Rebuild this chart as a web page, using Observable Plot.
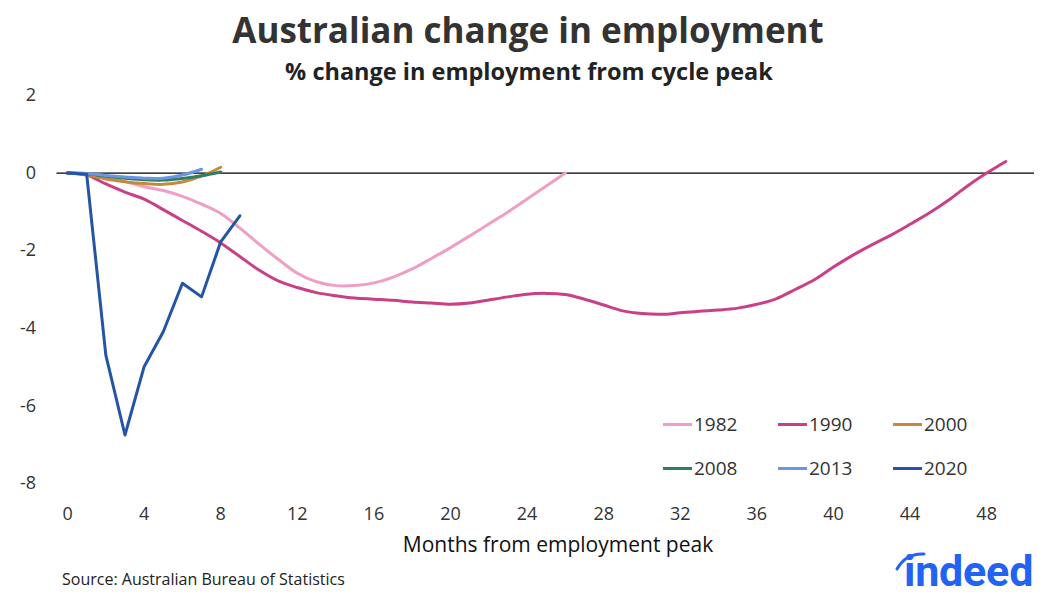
<!DOCTYPE html>
<html>
<head>
<meta charset="utf-8">
<script src="https://cdn.jsdelivr.net/npm/d3@7"></script>
<script src="https://cdn.jsdelivr.net/npm/@observablehq/plot@0.6"></script>
<style>
  html, body { margin: 0; padding: 0; background: #fff; }
  #wrap { position: relative; width: 1056px; height: 596px; overflow: hidden; font-family: "Open Sans", sans-serif; }
  #chart { position: absolute; left: 0; top: 0; }
  .abs { position: absolute; white-space: nowrap; }
  #title { left: 0; width: 1056px; text-align: center; top: 6px; font-size: 35px; font-weight: 700; color: #333; }
  #subtitle { left: 0; width: 1058px; text-align: center; top: 55px; font-size: 23.5px; font-weight: 700; color: #222; }
  #xlabel { left: 0; width: 1116px; text-align: center; top: 530px; font-size: 21px; color: #111; }
  #source { left: 62px; top: 568px; font-size: 16px; color: #222; }
  #logo { left: 904px; top: 546px; font-size: 43px; font-weight: 700; color: #2164f3; letter-spacing: -0.2px; font-family: Roboto, "Open Sans", sans-serif; }
  #arc { position: absolute; left: 894px; top: 550px; }
  .leg { position: absolute; font-size: 19px; color: #333; display: flex; align-items: center; }
  .sw { display: inline-block; width: 29px; height: 3px; margin-right: 2px; }
</style>
</head>
<body>
<div id="wrap">
  <div id="chart"></div>
  <div id="title" class="abs">Australian change in employment</div>
  <div id="subtitle" class="abs">% change in employment from cycle peak</div>
  <div id="xlabel" class="abs">Months from employment peak</div>
  <div id="source" class="abs">Source: Australian Bureau of Statistics</div>
  <div id="logo" class="abs">indeed</div>
  <svg id="arc" width="40" height="24"><path d="M3,19 Q12,3 30,4" fill="none" stroke="#2164f3" stroke-width="3" stroke-linecap="round"/></svg>
</div>
<script>
// Series labels and colours
const seriesNames = ["1982", "1990", "2000", "2008", "2013", "2020"];
const seriesColors = ["#ef9fc4", "#c93f88", "#c38a3b", "#2f7d62", "#6b96e6", "#2455a5"];

// % change in employment from cycle peak, by month from peak (index = month)
const v1982 = [0, -0.03, -0.12, -0.22, -0.35, -0.45, -0.6, -0.8, -1.04, -1.42, -1.83, -2.22, -2.58, -2.8, -2.9, -2.9, -2.83, -2.68, -2.47, -2.2, -1.92, -1.62, -1.31, -1.0, -0.67, -0.33, 0];
const v1990 = [0, -0.05, -0.28, -0.49, -0.67, -0.94, -1.22, -1.5, -1.8, -2.15, -2.5, -2.78, -2.95, -3.08, -3.16, -3.22, -3.25, -3.28, -3.32, -3.35, -3.38, -3.35, -3.27, -3.19, -3.12, -3.1, -3.13, -3.25, -3.4, -3.55, -3.62, -3.64, -3.6, -3.56, -3.53, -3.48, -3.38, -3.24, -3.0, -2.75, -2.42, -2.12, -1.85, -1.6, -1.32, -1.03, -0.7, -0.33, 0, 0.3];
const v2000 = [0, -0.05, -0.15, -0.22, -0.27, -0.29, -0.23, -0.08, 0.15];
const v2008 = [0, -0.02, -0.08, -0.13, -0.17, -0.18, -0.14, -0.07, 0.03];
const v2013 = [0, -0.01, -0.06, -0.1, -0.13, -0.13, -0.05, 0.1];
const v2020 = [0, -0.03, -4.69, -6.75, -4.99, -4.09, -2.84, -3.19, -1.77, -1.1];

const xTicks = [0, 4, 8, 12, 16, 20, 24, 28, 32, 36, 40, 44, 48];
const yTicks = [2, 0, -2, -4, -6, -8];

const seriesValues = [v1982, v1990, v2000, v2008, v2013, v2020];
const rows = seriesNames.map((name, k) => seriesValues[k].map((v, i) => ({ series: name, month: i, value: v })));
const smoothRows = rows.slice(0, 5).flat();
const rows2020 = rows[5];

const chart = Plot.plot({
  width: 1056,
  height: 596,
  marginLeft: 56.5,
  marginRight: 22,
  marginTop: 95,
  marginBottom: 113,
  style: { fontFamily: "Open Sans, sans-serif", fontSize: "18px", color: "#333", background: "transparent" },
  x: { domain: [-0.55, 50.5], ticks: xTicks, tickSize: 0, tickPadding: 24, tickFormat: d => String(d), label: null },
  y: { domain: [-8, 2], ticks: yTicks, tickSize: 0, tickPadding: 21, tickFormat: d => String(d), label: null },
  color: { domain: seriesNames, range: seriesColors },
  marks: [
    Plot.ruleY([0], { stroke: "#000", strokeWidth: 1.2 }),
    Plot.line(smoothRows, { x: "month", y: "value", z: "series", stroke: "series", strokeWidth: 3, curve: "catmull-rom" }),
    Plot.line(rows2020, { x: "month", y: "value", stroke: "series", strokeWidth: 3, curve: "linear" })
  ]
});
document.getElementById("chart").appendChild(chart);

// Legend (two rows of three)
const legPos = [[663, 424], [778, 424], [893, 424], [663, 468], [778, 468], [893, 468]];
const wrap = document.getElementById("wrap");
seriesNames.forEach((name, i) => {
  const d = document.createElement("div");
  d.className = "leg";
  d.style.left = legPos[i][0] + "px";
  d.style.top = (legPos[i][1] - 14) + "px";
  d.style.height = "28px";
  const s = document.createElement("span");
  s.className = "sw";
  s.style.background = seriesColors[i];
  d.appendChild(s);
  d.appendChild(document.createTextNode(name));
  wrap.appendChild(d);
});
</script>
</body>
</html>
